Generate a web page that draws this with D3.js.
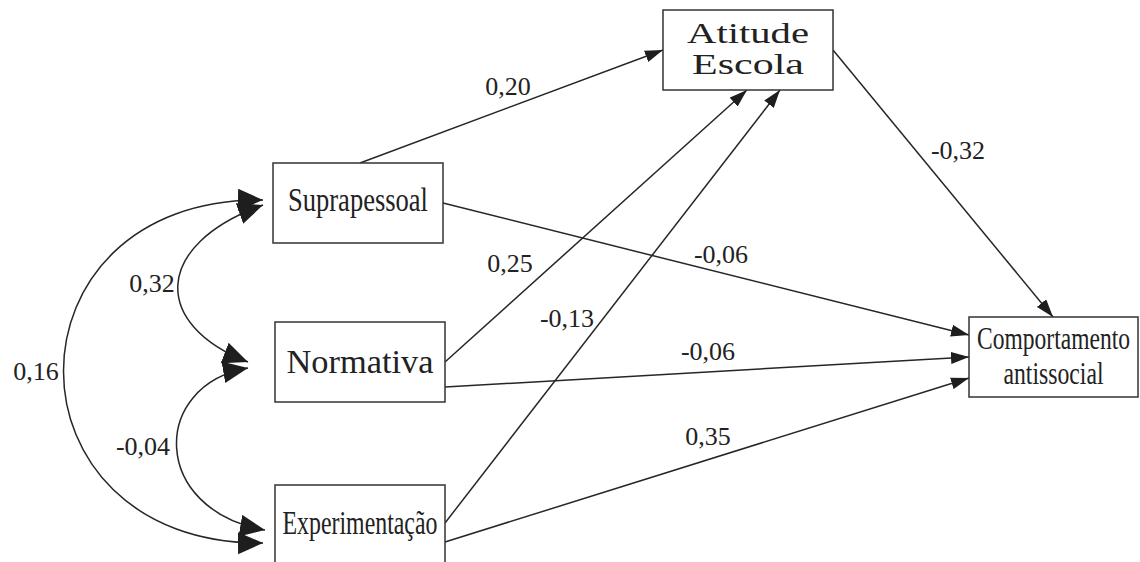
<!DOCTYPE html>
<html lang="pt">

<head>
    <meta charset="UTF-8">
    <title>Modelo de caminhos</title>
    <script src="https://d3js.org/d3.v7.min.js"></script>
    <style>
        body {
            margin: 0;
            background: #fff;
        }

        .box {
            fill: #fff;
            stroke: #333;
            stroke-width: 1.5px;
        }

        .path-line {
            stroke: #262626;
            stroke-width: 1.5px;
            fill: none;
        }

        .coef {
            font-size: 26px;
            fill: #222;
            text-anchor: middle;
        }

        .node-label {
            fill: #222;
            text-anchor: middle;
        }
    </style>
</head>

<body>
    <svg width="1140" height="562"></svg>

    <script>
        const SERIF = "'Liberation Serif', 'DejaVu Serif', 'Times New Roman', serif";

        // Variables (boxes)
        const nodeIds = ["supra", "norm", "exp", "atit", "comp"];
        const nodeLines = [
            ["Suprapessoal"],
            ["Normativa"],
            ["Experimentação"],
            ["Atitude", "Escola"],
            ["Comportamento", "antissocial"]
        ];

        // Regression paths (source -> target, standardized coefficient)
        const pathFrom = ["supra", "norm", "exp", "atit", "supra", "norm", "exp"];
        const pathTo = ["atit", "atit", "atit", "comp", "comp", "comp", "comp"];
        const pathCoef = ["0,20", "0,25", "-0,13", "-0,32", "-0,06", "-0,06", "0,35"];

        // Correlations between the value types
        const corrA = ["supra", "norm", "supra"];
        const corrB = ["norm", "exp", "exp"];
        const corrCoef = ["0,32", "-0,04", "0,16"];

        // ---- layout (kept apart from the data) ----
        const boxes = {
            supra: { x: 273, y: 163, w: 170, h: 80, size: 34, fit: [140], base: [211] },
            norm: { x: 275, y: 322, w: 170, h: 80, size: 34, fit: [147], base: [373] },
            exp: { x: 275, y: 485, w: 170, h: 95, size: 34, fit: [155], base: [534] },
            atit: { x: 663, y: 10, w: 170, h: 80, size: 29, fit: [122, 112], base: [43, 74] },
            comp: { x: 969, y: 317, w: 169, h: 80, size: 32, fit: [153, 100], base: [349, 384] }
        };

        // arrow endpoints for each path, in the same order as pathFrom/pathTo
        const pathPorts = [
            [[360, 163], [663, 50]],
            [[445, 362], [747, 90]],
            [[445, 523], [780, 90]],
            [[833, 50], [1053, 317]],
            [[443, 203], [969, 335]],
            [[445, 387], [969, 357]],
            [[445, 542], [969, 378]]
        ];
        const pathLabelPos = [[508, 95], [510, 272], [567, 327], [958, 159], [721, 263], [708, 360], [708, 445]];

        // correlation curves: start tip, two control points, end tip
        const corrCurves = [
            [[263, 205], [152, 245], [152, 325], [248, 362]],
            [[248, 368], [150, 385], [150, 510], [265, 530]],
            [[263, 200], [-3, 197], [-3, 545], [263, 543]]
        ];
        const corrLabelPos = [[152, 292], [143, 455], [36, 380]];

        const svg = d3.select("svg");
        const defs = svg.append("defs");

        defs.append("marker")
            .attr("id", "arrow")
            .attr("markerUnits", "userSpaceOnUse")
            .attr("markerWidth", 19).attr("markerHeight", 12)
            .attr("refX", 18).attr("refY", 6)
            .attr("orient", "auto")
            .append("path")
            .attr("d", "M0,0 L18,6 L0,12 Z")
            .attr("fill", "#1e1e1e");

        defs.append("marker")
            .attr("id", "bigArrow")
            .attr("markerUnits", "userSpaceOnUse")
            .attr("markerWidth", 27).attr("markerHeight", 24)
            .attr("refX", 25).attr("refY", 11)
            .attr("orient", "auto-start-reverse")
            .append("path")
            .attr("d", "M0,0 L25,11 L0,22 Z")
            .attr("fill", "#1e1e1e");

        // straight paths
        const paths = pathFrom.map((f, i) => ({ from: f, to: pathTo[i], coef: pathCoef[i], ports: pathPorts[i], lab: pathLabelPos[i] }));

        svg.selectAll(".path-line.reg")
            .data(paths)
            .enter().append("line")
            .attr("class", "path-line reg")
            .attr("x1", d => d.ports[0][0])
            .attr("y1", d => d.ports[0][1])
            .attr("x2", d => d.ports[1][0])
            .attr("y2", d => d.ports[1][1])
            .attr("marker-end", "url(#arrow)");

        svg.selectAll(".coef.reg")
            .data(paths)
            .enter().append("text")
            .attr("class", "coef reg")
            .attr("font-family", SERIF)
            .attr("x", d => d.lab[0])
            .attr("y", d => d.lab[1])
            .text(d => d.coef);

        // curved correlations
        const corrs = corrA.map((a, i) => ({ a, b: corrB[i], coef: corrCoef[i], pts: corrCurves[i], lab: corrLabelPos[i] }));

        svg.selectAll(".path-line.corr")
            .data(corrs)
            .enter().append("path")
            .attr("class", "path-line corr")
            .attr("d", d => {
                const p = d3.path();
                p.moveTo(d.pts[0][0], d.pts[0][1]);
                p.bezierCurveTo(d.pts[1][0], d.pts[1][1], d.pts[2][0], d.pts[2][1], d.pts[3][0], d.pts[3][1]);
                return p.toString();
            })
            .attr("marker-start", "url(#bigArrow)")
            .attr("marker-end", "url(#bigArrow)");

        svg.selectAll(".coef.corr")
            .data(corrs)
            .enter().append("text")
            .attr("class", "coef corr")
            .attr("font-family", SERIF)
            .attr("x", d => d.lab[0])
            .attr("y", d => d.lab[1])
            .text(d => d.coef);

        // boxes drawn last so they sit on top
        const node = svg.selectAll(".node")
            .data(nodeIds.map((id, i) => ({ id, lines: nodeLines[i], b: boxes[id] })))
            .enter().append("g")
            .attr("class", "node");

        node.append("rect")
            .attr("class", "box")
            .attr("x", d => d.b.x)
            .attr("y", d => d.b.y)
            .attr("width", d => d.b.w)
            .attr("height", d => d.b.h);

        // squeeze / stretch each label horizontally to the width seen in the figure
        node.each(function (d) {
            const g = d3.select(this);
            d.lines.forEach((line, j) => {
                const holder = g.append("g");
                const t = holder.append("text")
                    .attr("class", "node-label")
                    .attr("font-family", SERIF)
                    .attr("font-size", d.b.size)
                    .attr("x", 0)
                    .attr("y", 0)
                    .text(line);
                const natural = t.node().getComputedTextLength();
                const sx = d.b.fit[j] / natural;
                holder.attr("transform", `translate(${d.b.x + d.b.w / 2},${d.b.base[j]}) scale(${sx},1)`);
            });
        });
    </script>
</body>

</html>
